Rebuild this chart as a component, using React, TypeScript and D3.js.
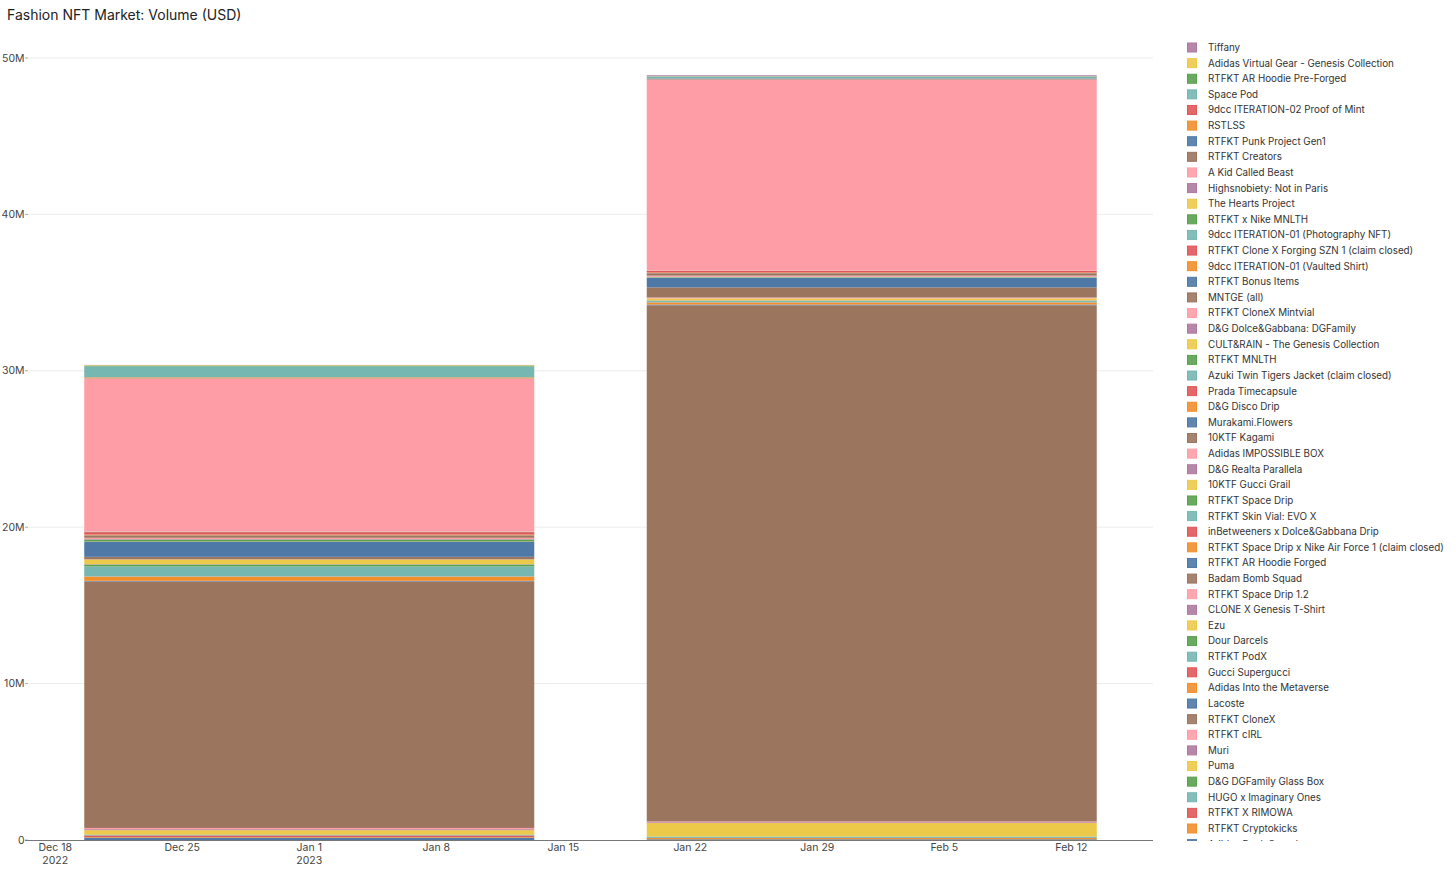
import React, { useEffect } from "react";
import * as d3 from "d3";

// ---------- DATA ----------
const title = "Fashion NFT Market: Volume (USD)";

const months = ["2023-01-01", "2023-02-01"];

// stack order: bottom -> top
const seriesNames = [
  "Adidas Punk Squad",
  "RTFKT Cryptokicks",
  "RTFKT X RIMOWA",
  "HUGO x Imaginary Ones",
  "D&G DGFamily Glass Box",
  "Puma",
  "Muri",
  "RTFKT cIRL",
  "RTFKT CloneX",
  "Lacoste",
  "Adidas Into the Metaverse",
  "Gucci Supergucci",
  "RTFKT PodX",
  "Dour Darcels",
  "Ezu",
  "CLONE X Genesis T-Shirt",
  "RTFKT Space Drip 1.2",
  "Badam Bomb Squad",
  "RTFKT AR Hoodie Forged",
  "RTFKT Space Drip x Nike Air Force 1 (claim closed)",
  "inBetweeners x Dolce&Gabbana Drip",
  "RTFKT Skin Vial: EVO X",
  "RTFKT Space Drip",
  "10KTF Gucci Grail",
  "D&G Realta Parallela",
  "Adidas IMPOSSIBLE BOX",
  "10KTF Kagami",
  "Murakami.Flowers",
  "D&G Disco Drip",
  "Prada Timecapsule",
  "Azuki Twin Tigers Jacket (claim closed)",
  "RTFKT MNLTH",
  "CULT&RAIN - The Genesis Collection",
  "D&G Dolce&Gabbana: DGFamily",
  "RTFKT CloneX Mintvial",
  "MNTGE (all)",
  "RTFKT Bonus Items",
  "9dcc ITERATION-01 (Vaulted Shirt)",
  "RTFKT Clone X Forging SZN 1 (claim closed)",
  "9dcc ITERATION-01 (Photography NFT)",
  "RTFKT x Nike MNLTH",
  "The Hearts Project",
  "Highsnobiety: Not in Paris",
  "A Kid Called Beast",
  "RTFKT Creators",
  "RTFKT Punk Project Gen1",
  "RSTLSS",
  "9dcc ITERATION-02 Proof of Mint",
  "Space Pod",
  "RTFKT AR Hoodie Pre-Forged",
  "Adidas Virtual Gear - Genesis Collection",
  "Tiffany",
];

// volume in USD millions, same order as seriesNames
const janValues = [
  0.15, 0.04, 0.10, 0.04, 0.02, 0.28, 0.06, 0.08,
  15.76, 0.04, 0.27, 0.01, 0.64, 0.11,
  0.005, 0.005, 0.005, 0.005, 0.005, 0.005, 0.005, 0.005, 0.005,
  0.29, 0.005, 0.005, 0.16, 0.95,
  0.01, 0.01, 0.01, 0.12, 0.01, 0.03, 0.08, 0.15, 0.01, 0.05, 0.15,
  0.01, 0.01, 0.01, 0.01,
  9.77, 0.01, 0.01, 0.06, 0.01, 0.70, 0.05, 0.03, 0.01,
];

const febValues = [
  0.045, 0.08, 0.01, 0.08, 0.01, 0.86, 0.05, 0.05,
  33.0, 0.05, 0.13, 0.01, 0.08, 0.01,
  0.005, 0.005, 0.005, 0.005, 0.005, 0.005, 0.005, 0.005, 0.005,
  0.12, 0.005, 0.05, 0.65, 0.60,
  0.005, 0.005, 0.03, 0.02, 0.005, 0.005, 0.08, 0.15, 0.01, 0.04, 0.10,
  0.005, 0.005, 0.005, 0.005,
  12.22, 0.03, 0.03, 0.005, 0.005, 0.12, 0.01, 0.01, 0.06,
];

const palette = ["#4e79a7", "#f28e2c", "#e15759", "#76b7b2", "#59a14f", "#edc949", "#af7aa1", "#ff9da7", "#9c755f"];

const yTicks = [0, 10e6, 20e6, 30e6, 40e6, 50e6];
const xTicks = ["2022-12-18", "2022-12-25", "2023-01-01", "2023-01-08", "2023-01-15", "2023-01-22", "2023-01-29", "2023-02-05", "2023-02-12"];

// ---------- LAYOUT ----------
const W = 1456;
const H = 877;
const plotLeft = 28;
const plotRight = 1153;
const plotBottom = 840;
const yTopPx = 58;
const legendX = 1187;
const legendY0 = 47.5;
const legendStep = 15.62;
const legendClipBottom = 841;
const font = "Inter, 'Noto Sans', sans-serif";

export default function App() {
  useEffect(() => {
    document.body.style.margin = "0";
  }, []);

  const parse = d3.timeParse("%Y-%m-%d");
  const monthDates = months.map((m) => parse(m) as Date);
  const dayMs = 86400000;

  const x = d3
    .scaleTime()
    .domain([
      new Date(monthDates[0].getTime() - 15.5 * dayMs),
      new Date(monthDates[1].getTime() + 15.5 * dayMs),
    ])
    .range([plotLeft, plotRight]);

  const y = d3.scaleLinear().domain([0, 50e6]).range([plotBottom, yTopPx]);

  const keys = seriesNames.map((_, i) => "s" + i);
  const rows = monthDates.map((d, mi) => {
    const r: any = { date: d };
    const vals = mi === 0 ? janValues : febValues;
    keys.forEach((k, i) => (r[k] = vals[i] * 1e6));
    return r;
  });
  const stacked = d3.stack<any>().keys(keys)(rows);
  const color = (i: number) => palette[i % palette.length];

  const barW = 0.8 * (x(monthDates[1]) - x(monthDates[0]));

  const fmtMD = d3.timeFormat("%b %-d");
  const fmtY = d3.timeFormat("%Y");
  const yFmt = (v: number) => (v === 0 ? "0" : d3.format("~s")(v));

  const xTickDates = xTicks.map((t) => parse(t) as Date);

  const legendItems = seriesNames.map((name, i) => ({ name, i })).reverse();

  return (
    <svg width={W} height={H} style={{ position: "absolute", left: 0, top: 0, fontFamily: font }}>
      <rect x={0} y={0} width={W} height={H} fill="#fff" />
      <text x={7} y={20} fontSize={14} fill="#222">
        {title}
      </text>

      {/* gridlines */}
      {yTicks.map((t) => (
        <g key={"y" + t}>
          {t !== 0 && (
            <line x1={plotLeft} x2={plotRight} y1={y(t)} y2={y(t)} stroke="#ececec" strokeWidth={1} />
          )}
          <line x1={plotLeft - 3} x2={plotLeft} y1={y(t)} y2={y(t)} stroke="#aaa" strokeWidth={1} />
          <text x={plotLeft - 1.5} y={y(t)} dy="0.35em" textAnchor="end" fontSize={10.5} fill="#444" dx={-2}>
            {yFmt(t)}
          </text>
        </g>
      ))}

      {/* bars */}
      {stacked.map((layer, li) =>
        layer.map((seg, mi) => {
          const y0 = y(seg[0]);
          const y1 = y(seg[1]);
          const cx = x(monthDates[mi]);
          return (
            <rect
              key={li + "-" + mi}
              x={cx - barW / 2}
              y={y1}
              width={barW}
              height={Math.max(0, y0 - y1)}
              fill={color(li)}
            />
          );
        })
      )}

      {/* x axis */}
      <line x1={plotLeft - 3} x2={plotRight} y1={plotBottom + 0.5} y2={plotBottom + 0.5} stroke="#777" strokeWidth={1} />
      {xTickDates.map((d, i) => {
        const prev = i > 0 ? xTickDates[i - 1] : null;
        const showYear = i === 0 || (prev && prev.getFullYear() !== d.getFullYear());
        return (
          <g key={"x" + i} transform={`translate(${x(d)},0)`}>
            <text y={851} textAnchor="middle" fontSize={10.5} fill="#444">
              {fmtMD(d)}
            </text>
            {showYear && (
              <text y={863.5} textAnchor="middle" fontSize={10.5} fill="#444">
                {fmtY(d)}
              </text>
            )}
          </g>
        );
      })}

      {/* legend */}
      <defs>
        <clipPath id="legendClip">
          <rect x={legendX - 5} y={30} width={W - legendX + 5} height={legendClipBottom - 30} />
        </clipPath>
      </defs>
      <g clipPath="url(#legendClip)">
        {legendItems.map((it, k) => {
          const cy = legendY0 + k * legendStep;
          return (
            <g key={"l" + it.i}>
              <rect
                x={legendX + 0.5}
                y={cy - 4.5}
                width={9}
                height={9}
                fill={color(it.i)}
                fillOpacity={0.9}
                stroke={color(it.i)}
                strokeWidth={1}
              />
              <text x={legendX + 21} y={cy} dy="0.35em" fontSize={9.8} fill="#333">
                {it.name}
              </text>
            </g>
          );
        })}
      </g>
    </svg>
  );
}
